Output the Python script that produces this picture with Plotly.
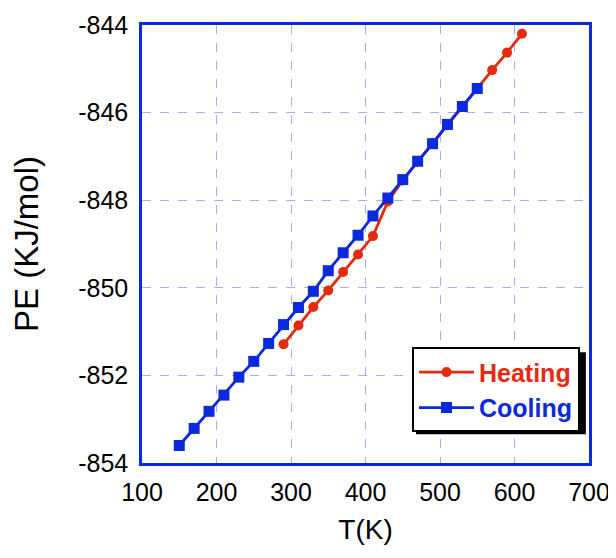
import plotly.graph_objects as go

# ---- data ----
heating_T = [290, 310, 330, 350, 370, 390, 410, 430, 450, 470, 490, 510, 530, 550, 570, 590, 610]
heating_PE = [-851.29, -850.86, -850.44, -850.06, -849.64, -849.24, -848.82, -848.03,
              -847.55, -847.12, -846.70, -846.28, -845.87, -845.46, -845.03, -844.63, -844.20]

cooling_T = [150, 170, 190, 210, 230, 250, 270, 290, 310, 330, 350, 370, 390, 410, 430,
             450, 470, 490, 510, 530, 550]
cooling_PE = [-853.60, -853.21, -852.82, -852.45, -852.04, -851.68, -851.27, -850.84, -850.45,
              -850.08, -849.61, -849.20, -848.80, -848.36, -847.95, -847.53, -847.11, -846.71,
              -846.27, -845.86, -845.45]

x_ticks = [100, 200, 300, 400, 500, 600, 700]
y_ticks = [-854, -852, -850, -848, -846, -844]
y_tick_labels = ["-854", "-852", "-850", "-848", "-846", "-844"]

RED = "#E62A0F"
BLUE = "#0A2ADB"
FONT = "Liberation Sans, Arial, sans-serif"

fig = go.Figure()
fig.add_trace(go.Scatter(
    x=heating_T, y=heating_PE, mode="lines+markers",
    name="<b><span style='color:%s'>Heating</span></b>" % RED,
    line=dict(color=RED, width=2.8),
    marker=dict(symbol="circle", size=10, color=RED),
))
fig.add_trace(go.Scatter(
    x=cooling_T, y=cooling_PE, mode="lines+markers",
    name="<b><span style='color:%s'>Cooling</span></b>" % BLUE,
    line=dict(color=BLUE, width=2.8),
    marker=dict(symbol="square", size=11, color=BLUE),
))

axis_common = dict(
    showgrid=True, gridcolor="#A3B0F5", griddash="dash", gridwidth=1,
    showline=True, linecolor=BLUE, linewidth=2.5, mirror=True,
    zeroline=False, ticks="", automargin=False,
    tickfont=dict(size=25, color="black", family=FONT),
)

fig.update_xaxes(range=[100, 700], tickvals=x_ticks, ticklabelstandoff=5,
                 title=dict(text="T(K)", font=dict(size=28, family=FONT, color="black"), standoff=15),
                 **axis_common)
fig.update_yaxes(range=[-854, -844], tickvals=y_ticks, ticktext=y_tick_labels,
                 ticklabelstandoff=6,
                 title=dict(text="PE (KJ/mol)", font=dict(size=33, family=FONT, color="black"), standoff=34),
                 **axis_common)

# legend shadow
fig.add_shape(type="rect", xref="paper", yref="paper",
              x0=0.613, x1=0.993, y0=0.0655, y1=0.253,
              fillcolor="black", line=dict(width=0), layer="above")

fig.update_layout(
    width=608, height=550,
    margin=dict(l=134, r=27, t=17, b=95),
    plot_bgcolor="white", paper_bgcolor="white",
    font=dict(family=FONT),
    legend=dict(
        x=0.604, y=0.167, xanchor="left", yanchor="middle",
        bgcolor="white", bordercolor="black", borderwidth=2,
        font=dict(size=25, family=FONT),
        tracegroupgap=0, itemwidth=55,
    ),
)

fig.write_html("out.html")
